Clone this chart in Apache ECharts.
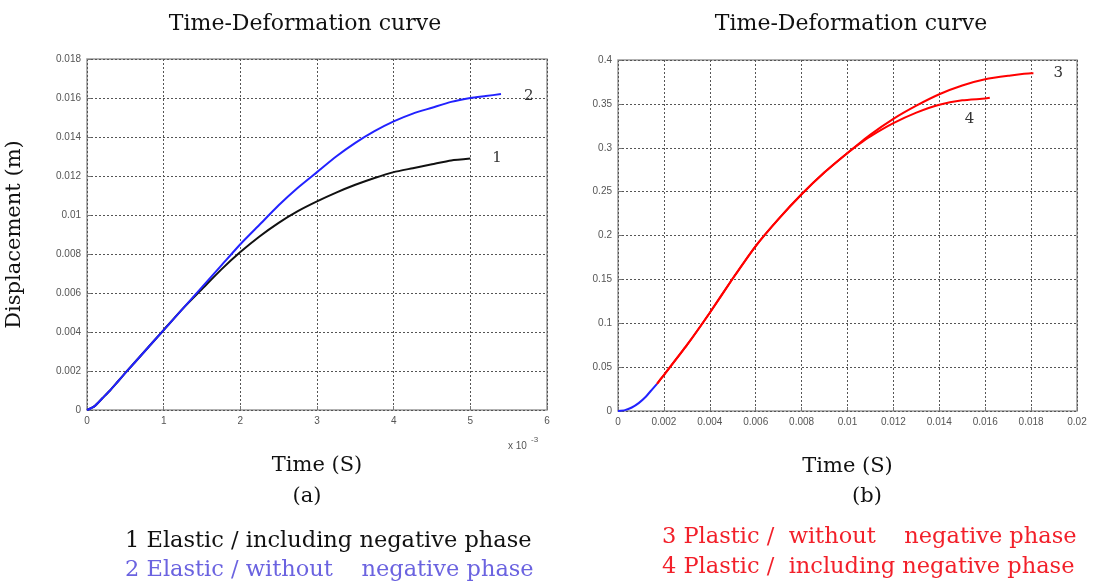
<!DOCTYPE html>
<html>
<head>
    <meta charset="UTF-8">
    <title>Time-Deformation curve</title>
    <script src="https://cdn.jsdelivr.net/npm/echarts@6/dist/echarts.min.js"></script>
</head>
<body style="margin:0;background:#fff;">
    <div id="main" style="width: 1095px; height: 583px;"></div>
    <script>
        // (a) elastic, time in ms (axis shown as x 10^-3)
        var elasticT = [0, 0.1, 0.2, 0.3, 0.4, 0.5, 0.75, 1, 1.25, 1.5, 1.75, 2, 2.25, 2.5, 2.75, 3, 3.25, 3.5, 3.75, 4, 4.25, 4.5, 4.75, 5, 5.2, 5.4];
        var elastic2 = [0, 0.0002, 0.0006, 0.001, 0.00145, 0.0019, 0.003, 0.0041, 0.0052, 0.0063, 0.0074, 0.0085, 0.0095, 0.0105, 0.0114, 0.0122, 0.0130, 0.0137, 0.0143, 0.0148, 0.0152, 0.0155, 0.0158, 0.0160, 0.0161, 0.0162];
        var elastic1T = [0, 0.1, 0.2, 0.3, 0.4, 0.5, 0.75, 1, 1.25, 1.5, 1.75, 2, 2.25, 2.5, 2.75, 3, 3.25, 3.5, 3.75, 4, 4.25, 4.5, 4.75, 5];
        var elastic1 = [0, 0.0002, 0.0006, 0.001, 0.00145, 0.0019, 0.003, 0.0041, 0.0052, 0.0062, 0.0072, 0.0081, 0.0089, 0.0096, 0.0102, 0.0107, 0.01115, 0.01155, 0.0119, 0.0122, 0.0124, 0.0126, 0.0128, 0.0129];

        // (b) plastic, time in s
        var startT = [0, 0.0003, 0.0006, 0.0009, 0.0012, 0.0015, 0.0017];
        var startD = [0, 0.001, 0.004, 0.009, 0.016, 0.025, 0.031];
        var plastic3T = [0.0017, 0.002, 0.003, 0.004, 0.005, 0.006, 0.007, 0.008, 0.009, 0.01, 0.011, 0.012, 0.013, 0.014, 0.015, 0.016, 0.017, 0.018, 0.0181];
        var plastic3 = [0.031, 0.041, 0.075, 0.112, 0.151, 0.188, 0.219, 0.247, 0.272, 0.294, 0.315, 0.333, 0.348, 0.361, 0.371, 0.378, 0.382, 0.385, 0.385];
        var plastic4T = [0.0017, 0.002, 0.003, 0.004, 0.005, 0.006, 0.007, 0.008, 0.009, 0.01, 0.0105, 0.011, 0.012, 0.013, 0.014, 0.015, 0.016, 0.0162];
        var plastic4 = [0.031, 0.041, 0.075, 0.112, 0.151, 0.188, 0.219, 0.247, 0.272, 0.294, 0.304, 0.313, 0.328, 0.340, 0.349, 0.354, 0.356, 0.357];

        function zip(xs, ys) {
            var out = [];
            for (var i = 0; i < xs.length; i++) out.push([xs[i], ys[i]]);
            return out;
        }

        var serif = 'DejaVu Serif';
        var tickFont = {color: '#555', fontSize: 10, fontFamily: 'Liberation Sans'};
        var gridLine = {show: true, lineStyle: {color: '#555', type: [2, 2], width: 1}};

        function xAxisOf(idx, min, max, interval, name) {
            return {
                type: 'value', gridIndex: idx, min: min, max: max, interval: interval,
                name: name, nameLocation: 'middle', nameGap: 45,
                nameTextStyle: {fontFamily: serif, fontSize: 21, color: '#111'},
                axisLine: {show: false},
                axisTick: {inside: true, length: 4, lineStyle: {color: '#777'}},
                axisLabel: Object.assign({margin: 6, formatter: function (v) { return String(+v.toFixed(4)); }}, tickFont),
                splitLine: gridLine
            };
        }
        function yAxisOf(idx, min, max, interval, name) {
            return {
                type: 'value', gridIndex: idx, min: min, max: max, interval: interval,
                name: name, nameLocation: 'middle', nameGap: 62,
                nameTextStyle: {fontFamily: serif, fontSize: 21, color: '#111'},
                axisLine: {show: false},
                axisTick: {inside: true, length: 4, lineStyle: {color: '#777'}},
                axisLabel: Object.assign({margin: 6, formatter: function (v) { return String(+v.toFixed(4)); }}, tickFont),
                splitLine: gridLine
            };
        }

        var myChart = echarts.init(document.getElementById('main'));
        var option = {
            backgroundColor: '#fff',
            animation: false,
            title: [
                {text: 'Time-Deformation curve', left: 300, top: 8, textAlign: 'center',
                    textStyle: {fontFamily: serif, fontSize: 22, fontWeight: 'normal', color: '#111'}},
                {text: 'Time-Deformation curve', left: 846, top: 8, textAlign: 'center',
                    textStyle: {fontFamily: serif, fontSize: 22, fontWeight: 'normal', color: '#111'}}
            ],
            grid: [
                {left: 87, top: 59, width: 460, height: 351, show: true, borderColor: '#999', borderWidth: 1.5},
                {left: 618, top: 60, width: 459, height: 351, show: true, borderColor: '#999', borderWidth: 1.5}
            ],
            xAxis: [
                xAxisOf(0, 0, 6, 1, 'Time (S)'),
                xAxisOf(1, 0, 0.02, 0.002, 'Time (S)')
            ],
            yAxis: [
                yAxisOf(0, 0, 0.018, 0.002, 'Displacement (m)'),
                yAxisOf(1, 0, 0.4, 0.05, '')
            ],
            graphic: [
                {type: 'text', left: 508, top: 441, style: {text: 'x 10', fontSize: 10, fontFamily: 'Liberation Sans', fill: '#555'}},
                {type: 'text', left: 531, top: 436, style: {text: '-3', fontSize: 8, fontFamily: 'Liberation Sans', fill: '#555'}},
                {type: 'text', x: 307, y: 497, style: {text: '(a)', fontSize: 21, fontFamily: serif, fill: '#111', align: 'center', verticalAlign: 'middle'}},
                {type: 'text', x: 867, y: 497, style: {text: '(b)', fontSize: 21, fontFamily: serif, fill: '#111', align: 'center', verticalAlign: 'middle'}},
                {type: 'text', x: 125, y: 541, style: {text: '1 Elastic / including negative phase', fontSize: 22.5, fontFamily: serif, fill: '#111', verticalAlign: 'middle'}},
                {type: 'text', x: 125, y: 570, style: {text: '2 Elastic / without    negative phase', fontSize: 22.5, fontFamily: serif, fill: '#6b63e0', verticalAlign: 'middle'}},
                {type: 'text', x: 662, y: 537, style: {text: '3 Plastic /  without    negative phase', fontSize: 22.5, fontFamily: serif, fill: '#f2202a', verticalAlign: 'middle'}},
                {type: 'text', x: 662, y: 567, style: {text: '4 Plastic /  including negative phase', fontSize: 22.5, fontFamily: serif, fill: '#f2202a', verticalAlign: 'middle'}}
            ],
            series: [
                {
                    name: '1', type: 'line', xAxisIndex: 0, yAxisIndex: 0, showSymbol: false, smooth: 0.2,
                    data: zip(elastic1T, elastic1), lineStyle: {color: '#111', width: 2},
                    endLabel: {show: true, formatter: '1', offset: [14, 0], fontFamily: serif, fontSize: 15, color: '#333'}
                },
                {
                    name: '2', type: 'line', xAxisIndex: 0, yAxisIndex: 0, showSymbol: false, smooth: 0.2,
                    data: zip(elasticT, elastic2), lineStyle: {color: '#2222ff', width: 2},
                    endLabel: {show: true, formatter: '2', offset: [15, 2], fontFamily: serif, fontSize: 15, color: '#333'}
                },
                {
                    name: 'start', type: 'line', xAxisIndex: 1, yAxisIndex: 1, showSymbol: false, smooth: 0.2,
                    data: zip(startT, startD), lineStyle: {color: '#2222ff', width: 2}
                },
                {
                    name: '4', type: 'line', xAxisIndex: 1, yAxisIndex: 1, showSymbol: false, smooth: 0.2,
                    data: zip(plastic4T, plastic4), lineStyle: {color: '#ff0000', width: 2},
                    endLabel: {show: true, formatter: '4', offset: [-33, 21], fontFamily: serif, fontSize: 15, color: '#333'}
                },
                {
                    name: '3', type: 'line', xAxisIndex: 1, yAxisIndex: 1, showSymbol: false, smooth: 0.2,
                    data: zip(plastic3T, plastic3), lineStyle: {color: '#ff0000', width: 2},
                    endLabel: {show: true, formatter: '3', offset: [12, 0], fontFamily: serif, fontSize: 15, color: '#333'}
                }
            ]
        };
        myChart.setOption(option);
    </script>
</body>
</html>
